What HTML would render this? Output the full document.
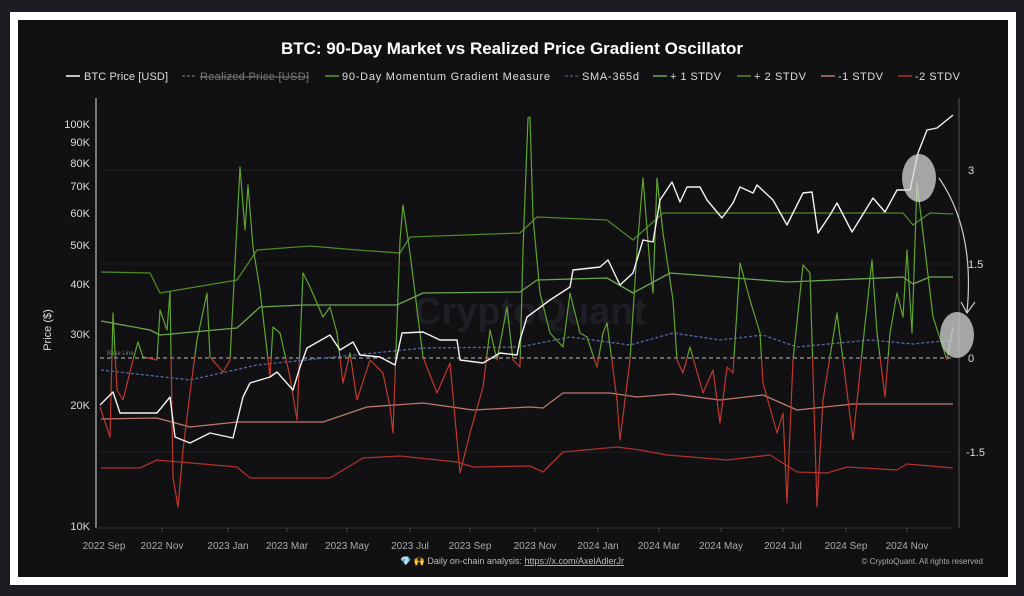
<!DOCTYPE html>
<html><head><meta charset="utf-8"><style>
html,body{margin:0;padding:0;background:#1c1d22;width:1024px;height:596px;overflow:hidden}
svg{display:block}
text{font-family:"Liberation Sans",sans-serif}
</style></head><body>
<svg width="1024" height="596" viewBox="0 0 1024 596" xmlns="http://www.w3.org/2000/svg">
<rect x="0" y="0" width="1024" height="596" fill="#1c1d22"/>
<rect x="10" y="12" width="1006" height="573" fill="#ffffff"/>
<rect x="18" y="20" width="990" height="557" fill="#111114"/>
<defs>
<clipPath id="above"><rect x="90" y="90" width="880" height="268"/></clipPath>
<clipPath id="below"><rect x="90" y="358" width="880" height="180"/></clipPath>
</defs>
<text x="512" y="54" text-anchor="middle" fill="#fff" font-size="17" font-weight="bold">BTC: 90-Day Market vs Realized Price Gradient Oscillator</text>
<g font-size="11" fill="#ddd">
<line x1="66" y1="76" x2="80" y2="76" stroke="#fff" stroke-width="1.5"/><text x="84" y="80" textLength="84">BTC Price [USD]</text>
<line x1="182" y1="76" x2="196" y2="76" stroke="#888" stroke-dasharray="3,2"/><text x="200" y="80" fill="#777" text-decoration="line-through" textLength="109">Realized Price [USD]</text>
<line x1="325" y1="76" x2="339" y2="76" stroke="#5a9a2a" stroke-width="1.5"/><text x="342" y="80" textLength="208">90-Day Momentum Gradient Measure</text>
<line x1="565" y1="76" x2="579" y2="76" stroke="#5566aa" stroke-dasharray="3,2"/><text x="582" y="80" textLength="57">SMA-365d</text>
<line x1="653" y1="76" x2="667" y2="76" stroke="#6aa84f" stroke-width="1.5"/><text x="670" y="80" textLength="51">+ 1 STDV</text>
<line x1="737" y1="76" x2="751" y2="76" stroke="#4e8a22" stroke-width="1.5"/><text x="754" y="80" textLength="52">+ 2 STDV</text>
<line x1="821" y1="76" x2="835" y2="76" stroke="#c0786e" stroke-width="1.5"/><text x="838" y="80" textLength="45">-1 STDV</text>
<line x1="898" y1="76" x2="912" y2="76" stroke="#b0302a" stroke-width="1.5"/><text x="915" y="80" textLength="45">-2 STDV</text>
</g>
<g stroke="#1f2024" stroke-width="1">
<line x1="100" y1="170" x2="954" y2="170"/><line x1="100" y1="264" x2="954" y2="264"/><line x1="100" y1="452" x2="954" y2="452"/>
</g>
<line x1="96" y1="98" x2="96" y2="528" stroke="#bbb" stroke-width="1.2"/>
<line x1="959" y1="98" x2="959" y2="528" stroke="#555" stroke-width="1"/>
<line x1="96" y1="528" x2="954" y2="528" stroke="#333" stroke-width="1"/>
<g font-size="11" fill="#ddd" text-anchor="end">
<text x="90" y="128">100K</text><text x="90" y="146">90K</text><text x="90" y="167">80K</text><text x="90" y="190">70K</text><text x="90" y="217">60K</text><text x="90" y="249">50K</text><text x="90" y="288">40K</text><text x="90" y="338">30K</text><text x="90" y="409">20K</text><text x="90" y="530">10K</text>
</g>
<g font-size="11" fill="#ddd">
<text x="968" y="174">3</text><text x="968" y="268">1.5</text><text x="968" y="362">0</text><text x="966" y="456">-1.5</text>
</g>
<text transform="translate(51,330) rotate(-90)" text-anchor="middle" font-size="11" fill="#ddd">Price ($)</text>
<g font-size="10" fill="#aaa" text-anchor="middle">
<text x="104" y="549">2022 Sep</text><text x="162" y="549">2022 Nov</text><text x="228" y="549">2023 Jan</text><text x="287" y="549">2023 Mar</text><text x="347" y="549">2023 May</text><text x="410" y="549">2023 Jul</text><text x="470" y="549">2023 Sep</text><text x="535" y="549">2023 Nov</text><text x="598" y="549">2024 Jan</text><text x="659" y="549">2024 Mar</text><text x="721" y="549">2024 May</text><text x="783" y="549">2024 Jul</text><text x="846" y="549">2024 Sep</text><text x="907" y="549">2024 Nov</text>
</g>
<g stroke="#444"><line x1="162" y1="528" x2="162" y2="532"/><line x1="228" y1="528" x2="228" y2="532"/><line x1="287" y1="528" x2="287" y2="532"/><line x1="347" y1="528" x2="347" y2="532"/><line x1="410" y1="528" x2="410" y2="532"/><line x1="470" y1="528" x2="470" y2="532"/><line x1="535" y1="528" x2="535" y2="532"/><line x1="598" y1="528" x2="598" y2="532"/><line x1="659" y1="528" x2="659" y2="532"/><line x1="721" y1="528" x2="721" y2="532"/><line x1="783" y1="528" x2="783" y2="532"/><line x1="846" y1="528" x2="846" y2="532"/><line x1="907" y1="528" x2="907" y2="532"/></g>
<text x="530" y="324" text-anchor="middle" font-size="38" fill="#1e1f24" font-weight="bold">CryptoQuant</text>
<line x1="100" y1="358" x2="954" y2="358" stroke="#bbb" stroke-dasharray="4,3" stroke-width="1"/>
<text x="107" y="355" font-size="6" fill="#777">Base Line</text>
<g fill="none" stroke-width="1.3" stroke-linejoin="round">
<polyline stroke="#4e8a22" points="101,272 150,273 160,293 237,280 257,250 310,246 357,250 400,253 410,237 520,233 537,217 607,220 633,240 663,213 753,213 903,213 913,225 930,213 953,214"/>
<polyline stroke="#6aa84f" points="101,321 150,330 160,335 237,328 260,307 303,305 397,305 423,293 520,292 537,280 607,278 633,293 670,273 787,282 903,277 913,284 930,277 953,277"/>
<polyline stroke="#5566aa" stroke-dasharray="3,2" points="101,370 190,380 257,365 423,348 520,347 570,337 630,345 673,333 720,340 763,335 797,347 870,340 913,344 953,340"/>
<polyline stroke="#c0786e" points="101,419 157,418 190,427 237,422 323,422 367,407 423,403 473,410 530,407 543,408 563,393 610,393 637,397 673,394 720,400 763,395 797,410 853,404 953,404"/>
<polyline stroke="#b0302a" points="101,468 140,468 157,460 237,467 250,478 330,478 363,458 400,456 457,462 473,467 530,466 543,472 563,452 617,447 640,450 667,455 727,460 770,455 797,472 827,473 847,467 897,470 907,464 953,468"/>
</g>
<g fill="none" stroke-width="1.2" stroke-linejoin="round">
<polyline clip-path="url(#above)" stroke="#5fa52c" points="100,407 110,437 113,313 117,390 123,400 133,360 138,342 143,357 157,360 160,310 167,330 170,292 173,477 178,507 183,450 190,393 197,340 207,293 210,357 223,372 230,360 240,167 245,230 248,185 253,247 260,290 270,377 273,327 280,333 290,377 297,420 303,273 310,287 323,317 330,307 337,333 343,383 350,353 357,400 370,360 383,373 390,407 393,433 400,240 403,205 410,253 423,357 437,393 450,363 460,473 470,433 483,387 490,330 497,360 507,307 513,360 520,367 523,250 528,118 530,117 533,217 540,293 550,333 563,347 570,293 580,333 587,337 597,367 603,333 607,323 617,400 620,440 630,360 637,250 643,178 650,267 653,293 657,178 663,233 673,300 677,360 683,373 690,347 703,393 713,370 720,423 727,367 733,373 740,263 750,300 760,333 763,383 777,433 783,413 787,503 793,360 803,265 810,273 817,507 823,400 837,313 843,360 853,440 863,343 872,260 877,333 885,397 890,333 897,293 903,317 907,250 912,333 917,183 923,233 933,317 947,360 953,327"/>
<polyline clip-path="url(#below)" stroke="#c0392b" points="100,407 110,437 113,313 117,390 123,400 133,360 138,342 143,357 157,360 160,310 167,330 170,292 173,477 178,507 183,450 190,393 197,340 207,293 210,357 223,372 230,360 240,167 245,230 248,185 253,247 260,290 270,377 273,327 280,333 290,377 297,420 303,273 310,287 323,317 330,307 337,333 343,383 350,353 357,400 370,360 383,373 390,407 393,433 400,240 403,205 410,253 423,357 437,393 450,363 460,473 470,433 483,387 490,330 497,360 507,307 513,360 520,367 523,250 528,118 530,117 533,217 540,293 550,333 563,347 570,293 580,333 587,337 597,367 603,333 607,323 617,400 620,440 630,360 637,250 643,178 650,267 653,293 657,178 663,233 673,300 677,360 683,373 690,347 703,393 713,370 720,423 727,367 733,373 740,263 750,300 760,333 763,383 777,433 783,413 787,503 793,360 803,265 810,273 817,507 823,400 837,313 843,360 853,440 863,343 872,260 877,333 885,397 890,333 897,293 903,317 907,250 912,333 917,183 923,233 933,317 947,360 953,327"/>
</g>
<polyline fill="none" stroke="#f2f2f2" stroke-width="1.4" stroke-linejoin="round" points="100,405 113,392 120,413 157,413 170,397 175,437 190,443 210,433 233,438 243,397 250,383 270,377 277,372 293,390 300,367 307,348 330,335 340,350 353,342 360,355 380,357 395,365 402,333 423,332 440,340 457,340 460,360 483,363 500,353 517,355 520,340 527,317 550,300 570,287 573,270 600,267 608,260 620,285 633,273 643,240 653,242 660,200 672,182 680,202 687,187 700,187 707,200 722,218 733,203 740,187 753,193 757,185 773,200 787,225 803,193 812,192 818,233 830,215 837,203 852,232 873,198 885,212 897,190 910,190 918,153 927,130 937,128 953,115"/>
<ellipse cx="919" cy="178" rx="17" ry="24" fill="rgba(215,215,215,0.75)"/>
<ellipse cx="957" cy="335" rx="17" ry="23" fill="rgba(215,215,215,0.75)"/>
<path d="M939,178 Q975,230 967,312" fill="none" stroke="#ccc" stroke-width="1.2"/>
<path d="M961,302 L967,313 L975,302" fill="none" stroke="#ccc" stroke-width="1.2"/>
<text x="512" y="564" text-anchor="middle" font-size="9" fill="#bbb">💎 🙌 Daily on-chain analysis: <tspan text-decoration="underline">https://x.com/AxelAdlerJr</tspan></text>
<text x="983" y="564" text-anchor="end" font-size="8" fill="#aaa">© CryptoQuant. All rights reserved</text>
</svg>
</body></html>
